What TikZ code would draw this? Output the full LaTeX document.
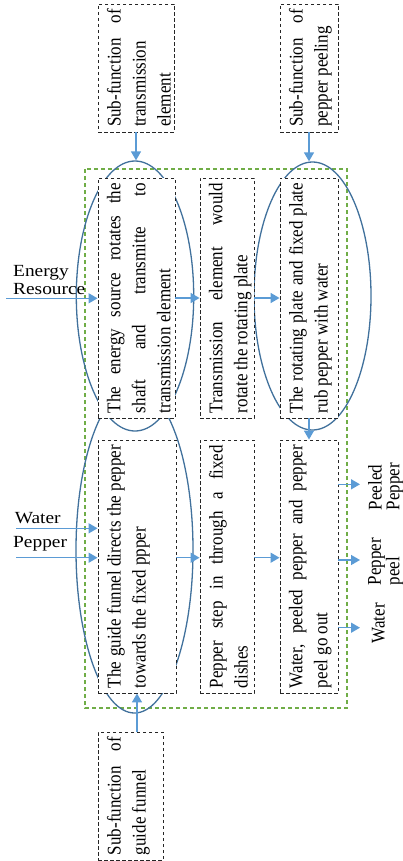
\documentclass[tikz,border=0pt]{standalone}
\usepackage{fontspec}
\setmainfont{Liberation Serif}
\usepackage{graphicx}
\usetikzlibrary{shapes.geometric,arrows.meta}
\definecolor{ellc}{HTML}{41719C}
\definecolor{arrc}{HTML}{5B9BD5}
\definecolor{grnc}{HTML}{70AD47}
\newcommand{\jl}[1]{\makebox[\linewidth][s]{#1}}
\newcommand{\bt}[3]{\scalebox{1.14}[1]{\rotatebox{90}{\begin{minipage}[c][\dimexpr #1pt*100/114\relax][t]{\dimexpr #2pt-10pt\relax}\vspace*{7.8pt}\fontsize{17}{22}\selectfont\noindent #3\end{minipage}}}}
\newcommand{\rl}[1]{\scalebox{1.14}[1]{\rotatebox{90}{\fontsize{17}{14.8}\selectfont\begin{tabular}{@{}l@{}}#1\end{tabular}}}}
\newcommand{\hl}[1]{\scalebox{1.14}[1]{\fontsize{17}{17.5}\selectfont\begin{tabular}{@{}l@{}}#1\end{tabular}}}
\begin{document}
\begin{tikzpicture}[x=1pt,y=1pt,
  dbox/.style={rectangle, draw=black!85, dash pattern=on 3.5pt off 2.5pt, line width=0.9pt, fill=white, inner sep=0pt},
  ell/.style={ellipse, draw=ellc, line width=1.3pt, inner sep=0pt},
  arr/.style={draw=arrc, line width=1.5pt, -{Triangle[length=9pt,width=10pt]}},
  grn/.style={draw=grnc, line width=1.3pt, dash pattern=on 4pt off 3pt},
  lbl/.style={inner sep=0pt}]
\useasboundingbox (0,0) rectangle (403,-861);
% green system boundary
\draw[grn] (85,-169) rectangle (347,-708);
% ellipses
\node[ell, minimum width=117.4pt, minimum height=270pt] (e1) at (135,-296) {};
\node[ell, minimum width=117pt, minimum height=268pt] (e3) at (312.5,-296) {};
\node[ell, minimum width=117pt, minimum height=326pt] (eG) at (134.5,-550) {};
% sub-function boxes
\node[dbox, minimum width=76pt, minimum height=128pt] (subT) at (136,-68) {\bt{76}{128}{\jl{Sub-function of}\\transmission\\element}};
\node[dbox, minimum width=58pt, minimum height=128pt] (subP) at (309,-68) {\bt{58}{128}{\jl{Sub-function of}\\pepper peeling}};
\node[dbox, minimum width=65pt, minimum height=128pt] (subG) at (130.5,-796) {\bt{65}{128}{\jl{Sub-function of}\\guide funnel}};
% process boxes
\node[dbox, minimum width=77pt, minimum height=240pt] (b1) at (136.5,-298) {\bt{77}{240}{\jl{The energy source rotates the}\\\jl{shaft and transmitte to}\\transmission element}};
\node[dbox, minimum width=54pt, minimum height=240pt] (b2) at (227,-298) {\bt{54}{240}{\jl{Transmission element would}\\rotate the rotating plate}};
\node[dbox, minimum width=58pt, minimum height=240pt] (b3) at (309,-298) {\bt{58}{240}{\jl{The rotating plate and fixed plate}\\rub pepper with water}};
\node[dbox, minimum width=78pt, minimum height=253pt] (b4) at (137,-566.5) {\bt{78}{253}{\jl{The guide funnel directs the pepper}\\towards the fixed ppper}};
\node[dbox, minimum width=54pt, minimum height=253pt] (b5) at (227,-566.5) {\bt{54}{253}{\jl{Pepper step in through a fixed}\\dishes}};
\node[dbox, minimum width=58pt, minimum height=253pt] (b6) at (309,-566.5) {\bt{58}{253}{\jl{Water, peeled pepper and pepper}\\peel go out}};
% free ends
\coordinate (eS) at (6,-298.3);
\coordinate (wS) at (16,-528.3);
\coordinate (pS) at (16,-557.7);
\coordinate (r2) at (0,-557.7);
\coordinate (o1) at (360,-484.3);
\coordinate (o2) at (360,-560);
\coordinate (o3) at (360,-627.7);
% arrows
\draw[arr] (subT.south) -- (subT.south |- e1.north);
\draw[arr] (subP.south) -- (subP.south |- e3.north);
\draw[arr] (b3.south) -- (b6.north);
\draw[arr] (b4.south |- subG.north) -- (b4.south);
\draw[arr] (b1.east) -- (b2.west);
\draw[arr] (b2.east) -- (b3.west);
\draw[arr] (b4.east |- r2) -- (b5.west |- r2);
\draw[arr] (b5.east |- r2) -- (b6.west |- r2);
\draw[arr] (eS) -- (b1.west |- eS);
\draw[arr] (wS) -- (b4.west |- wS);
\draw[arr] (pS) -- (b4.west |- pS);
\draw[arr] (b6.east |- o1) -- (o1);
\draw[arr] (b6.east |- o2) -- (o2);
\draw[arr] (b6.east |- o3) -- (o3);
% labels
\node[lbl, anchor=north west] (lE) at (13,-264.4) {\hl{Energy\\Resource}};
\node[lbl, anchor=north west] (lW) at (14.7,-511) {\hl{Water}};
\node[lbl, anchor=north west] (lP) at (13,-535.5) {\hl{Pepper}};
\node[lbl, anchor=south west] (oP) at (368,-510.3) {\rl{Peeled\\Pepper}};
\node[lbl, anchor=south west] (oK) at (368,-585.3) {\rl{Pepper\\peel}};
\node[lbl, anchor=south west] (oW) at (371.7,-643.5) {\rl{Water}};
\end{tikzpicture}
\end{document}
